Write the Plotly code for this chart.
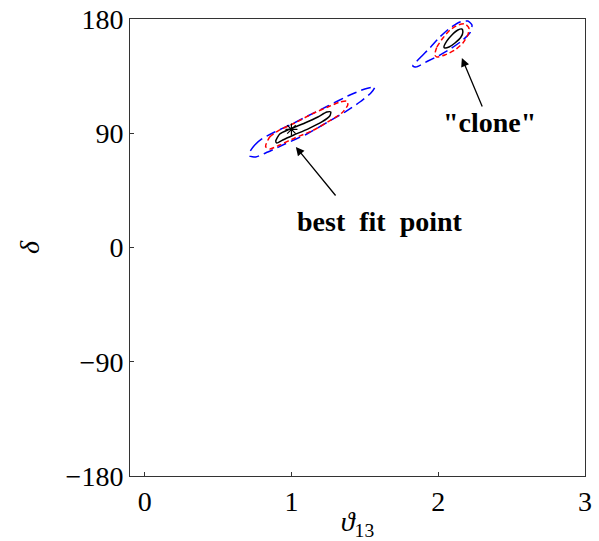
import plotly.graph_objects as go

# x axis: theta_13, y axis: delta (degrees)
x_ticks = [0, 1, 2, 3]
y_ticks = [-180, -90, 0, 90, 180]
y_ticktext = ["\u2212180", "\u221290", "0", "90", "180"]

# contours around best fit point
bf_blue_x = [0.716, 0.750, 0.798, 0.886, 0.989, 1.111, 1.248, 1.398, 1.500, 1.568, 1.541, 1.466, 1.364, 1.248, 1.105, 0.955, 0.839, 0.757, 0.716, 0.716]
bf_blue_y = [75.2, 80.7, 85.5, 91.0, 96.5, 103.6, 111.5, 120.1, 124.9, 126.4, 121.7, 114.6, 106.7, 98.9, 89.4, 81.5, 75.2, 71.3, 72.1, 75.2]

bf_red_x = [0.825, 0.852, 0.920, 1.023, 1.139, 1.248, 1.330, 1.377, 1.384, 1.343, 1.248, 1.139, 1.023, 0.920, 0.852, 0.825, 0.825]
bf_red_y = [80.7, 87.0, 92.6, 98.1, 105.2, 110.7, 114.6, 115.4, 112.3, 106.0, 98.9, 91.8, 86.3, 80.7, 77.6, 79.2, 80.7]

bf_black_x = [0.893, 0.920, 0.989, 1.091, 1.180, 1.241, 1.268, 1.261, 1.207, 1.111, 1.016, 0.941, 0.900, 0.893]
bf_black_y = [83.9, 89.4, 93.3, 98.1, 102.8, 106.7, 106.7, 103.6, 98.9, 93.3, 88.6, 84.7, 82.3, 83.9]

# contours around the "clone"
cl_blue_x = [1.827, 1.875, 1.943, 2.011, 2.080, 2.148, 2.202, 2.230, 2.216, 2.168, 2.093, 2.011, 1.930, 1.848, 1.827]
cl_blue_y = [143.0, 149.3, 157.2, 165.8, 172.9, 177.6, 178.4, 175.3, 169.0, 163.5, 157.2, 151.6, 146.9, 142.2, 143.0]

cl_red_x = [1.977, 1.991, 2.032, 2.080, 2.134, 2.182, 2.209, 2.202, 2.168, 2.114, 2.045, 1.991, 1.977]
cl_red_y = [151.6, 157.9, 165.0, 171.3, 175.3, 176.1, 172.9, 167.4, 161.1, 155.6, 151.6, 150.1, 151.6]

cl_black_x = [2.039, 2.059, 2.093, 2.134, 2.161, 2.168, 2.155, 2.114, 2.073, 2.045, 2.039]
cl_black_y = [157.9, 162.7, 167.4, 171.3, 172.1, 169.8, 165.8, 161.1, 157.9, 157.2, 157.9]

best_fit = (1.0, 93.0)

# annotations: (text x, text y, arrow tail x, tail y, head x, head y)
bf_label = ("best\u00a0 fit\u00a0 point", 1.602, 20.1, 1.309, 39.8, 1.030, 79.2)
cl_label = ("\"clone\"", 2.352, 98.1, 2.304, 109.9, 2.161, 149.3)

FONT = "Liberation Serif, Times New Roman, serif"

fig = go.Figure()

def add_contour(xs, ys, color, dash, width):
    fig.add_trace(go.Scatter(x=xs, y=ys, mode="lines",
                             line=dict(color=color, dash=dash, width=width, shape="spline", smoothing=0.6),
                             showlegend=False, hoverinfo="skip"))

add_contour(bf_blue_x, bf_blue_y, "#0000ff", "10px,5px", 1.5)
add_contour(bf_red_x, bf_red_y, "#ff0000", "5px,3px", 1.5)
add_contour(bf_black_x, bf_black_y, "#000000", "solid", 1.5)
add_contour(cl_blue_x, cl_blue_y, "#0000ff", "10px,5px", 1.5)
add_contour(cl_red_x, cl_red_y, "#ff0000", "5px,3px", 1.5)
add_contour(cl_black_x, cl_black_y, "#000000", "solid", 1.5)

fig.add_trace(go.Scatter(x=[best_fit[0]], y=[best_fit[1]], mode="markers",
                         marker=dict(symbol="asterisk-open", size=10, color="black",
                                     line=dict(color="black", width=1.2)),
                         showlegend=False, hoverinfo="skip"))

for text, tx, ty, ax_, ay_, hx, hy in [bf_label, cl_label]:
    fig.add_annotation(x=hx, y=hy, ax=ax_, ay=ay_, xref="x", yref="y", axref="x", ayref="y",
                       text="", showarrow=True, arrowhead=2, arrowsize=1.3, arrowwidth=1.3,
                       arrowcolor="black")
    fig.add_annotation(x=tx, y=ty, xref="x", yref="y", text="<b>" + text + "</b>",
                       showarrow=False, font=dict(family=FONT, size=28, color="black"))

axis_common = dict(showline=True, linecolor="#333333", linewidth=1, mirror=True,
                   ticks="inside", ticklen=4, tickcolor="#333333", tickwidth=1,
                   showgrid=False, zeroline=False,
                   tickfont=dict(family=FONT, size=28, color="black"))

fig.update_xaxes(range=[-0.1, 3.0], tickvals=x_ticks, ticktext=[str(v) for v in x_ticks],
                 title=dict(text="<i>\u03d1</i><sub>13</sub>", font=dict(family=FONT, size=28, color="black"),
                            standoff=2),
                 **axis_common)
fig.update_yaxes(range=[-180, 180], tickvals=y_ticks, ticktext=y_ticktext,
                 title=dict(text="<i>\u03b4</i>", font=dict(family=FONT, size=28, color="black"),
                            standoff=17),
                 **axis_common)

fig.update_layout(width=599, height=541, margin=dict(l=130, r=14, t=19, b=65, autoexpand=False),
                  plot_bgcolor="white", paper_bgcolor="white", showlegend=False)

fig.write_html("out.html")
